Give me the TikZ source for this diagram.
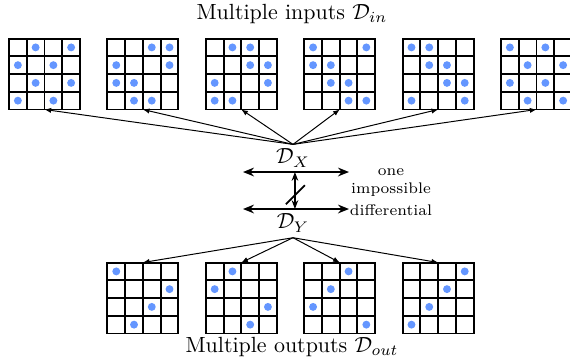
\documentclass[tikz,border=0pt]{standalone}
\usepackage{amsmath}
\usepackage{tikz}
\usetikzlibrary{arrows.meta, calc, positioning}
\definecolor{dotblue}{RGB}{100,150,255}

\begin{document}
\begin{tikzpicture}[x=0.016cm, y=-0.016cm]
\tikzset{
  state grid/.style={draw, line width=0.9pt, minimum size=1.136cm, inner sep=0pt, outer sep=0pt},
  cell dot/.style={fill=dotblue, draw=none},
  fan arrow/.style={-{Latex[length=3pt, width=2.4pt]}, line width=0.45pt},
  diff line/.style={{Stealth[length=5pt, width=4pt]}-{Stealth[length=5pt, width=4pt]}, line width=0.8pt}
}
  \useasboundingbox (0,0) rectangle (570,360);

  \node (Tin) at (292,14) {Multiple inputs $\mathcal{D}_{in}$};
  \node (Tout) at (292,347) {Multiple outputs $\mathcal{D}_{out}$};

  % input states
  \foreach \i/\pts in {0/{1/0,3/0,0/1,2/1,1/2,3/2,0/3,2/3},
                       1/{2/0,3/0,0/1,3/1,0/2,1/2,1/3,2/3},
                       2/{1/0,2/0,2/1,3/1,0/2,3/2,0/3,1/3},
                       3/{0/0,3/0,0/1,1/1,1/2,2/2,2/3,3/3},
                       4/{0/0,1/0,1/1,2/1,2/2,3/2,0/3,3/3},
                       5/{0/0,2/0,1/1,3/1,0/2,2/2,1/3,3/3}} {
    \node [state grid] (I\i) at (44.5+98.4*\i, 74) {};
    \foreach \k in {1,2,3} {
      \draw [line width=0.9pt] ($(I\i.north west)!\k/4!(I\i.north east)$) -- ($(I\i.south west)!\k/4!(I\i.south east)$);
      \draw [line width=0.9pt] ($(I\i.north west)!\k/4!(I\i.south west)$) -- ($(I\i.north east)!\k/4!(I\i.south east)$);
    }
    \foreach \c/\r in \pts {
      \fill [cell dot] ($(I\i.north west)+({(\c+0.5)*17.75},{(\r+0.5)*17.75})$) circle [radius=1.8pt];
    }
  }

  % output states
  \foreach \i/\pts in {0/{0/0,3/1,2/2,1/3},
                       1/{1/0,0/1,3/2,2/3},
                       2/{2/0,1/1,0/2,3/3},
                       3/{3/0,2/1,1/2,0/3}} {
    \node [state grid] (O\i) at (142.9+98.4*\i, 298) {};
    \foreach \k in {1,2,3} {
      \draw [line width=0.9pt] ($(O\i.north west)!\k/4!(O\i.north east)$) -- ($(O\i.south west)!\k/4!(O\i.south east)$);
      \draw [line width=0.9pt] ($(O\i.north west)!\k/4!(O\i.south west)$) -- ($(O\i.north east)!\k/4!(O\i.south east)$);
    }
    \foreach \c/\r in \pts {
      \fill [cell dot] ($(O\i.north west)+({(\c+0.5)*17.75},{(\r+0.5)*17.75})$) circle [radius=1.8pt];
    }
  }

  \node (DX) at (293,158) {$\mathcal{D}_X$};
  \node (DY) at (293,223) {$\mathcal{D}_Y$};

  \foreach \i in {0,...,5}
    \draw [fan arrow] ([yshift=-1.5pt]DX.north) -- (I\i.south);
  \foreach \i in {0,...,3}
    \draw [fan arrow] ([yshift=1pt]DY.south) -- (O\i.north);

  \coordinate (XL) at (243,172);
  \coordinate (XR) at (349,172);
  \coordinate (YL) at (243,209);
  \coordinate (YR) at (349,209);
  \draw [diff line] (XL) -- (XR);
  \draw [diff line] (YL) -- (YR);
  \coordinate (XM) at ($(XL)!0.49!(XR)$);
  \coordinate (YM) at ($(YL)!0.49!(YR)$);
  \coordinate (SL) at ($(XM)!0.6!(YM)$);
  \draw [{Stealth[length=4pt, width=3pt]}-{Stealth[length=4pt, width=3pt]}, line width=0.6pt] (XM) -- (YM);
  \draw [line width=0.8pt] ($(SL)+(-9,10)$) -- ($(SL)+(10,-9)$);

  \node [font=\scriptsize, align=center] (ID) at (391,192) {one\\impossible\\[2pt]differential};
\end{tikzpicture}
\end{document}
